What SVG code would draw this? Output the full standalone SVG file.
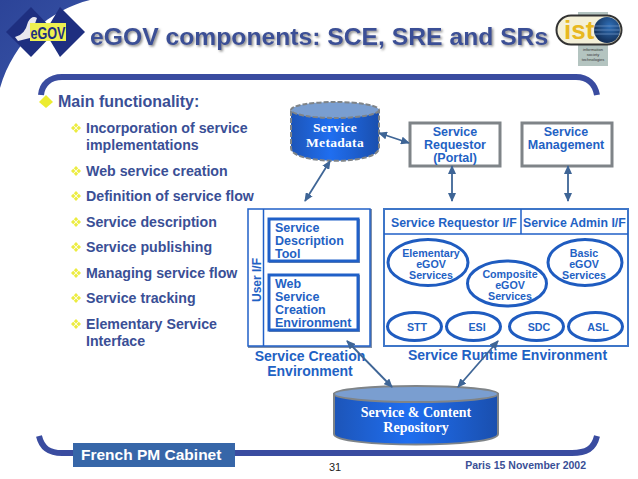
<svg xmlns="http://www.w3.org/2000/svg" xmlns:xlink="http://www.w3.org/1999/xlink" width="638" height="479" viewBox="0 0 638 479">
<defs>
<linearGradient id="cyl" x1="0" y1="0" x2="1" y2="0"><stop offset="0" stop-color="#1d55b8"/><stop offset="0.45" stop-color="#1f6ef0"/><stop offset="1" stop-color="#1a4fae"/></linearGradient>
<linearGradient id="corner" x1="0" y1="0" x2="1" y2="1"><stop offset="0" stop-color="#2c4498"/><stop offset="1" stop-color="#3a55a8"/></linearGradient>
<radialGradient id="globe" cx="0.6" cy="0.35" r="0.8"><stop offset="0" stop-color="#2f6fb8"/><stop offset="1" stop-color="#0c1f40"/></radialGradient>
<marker id="ah" markerWidth="9" markerHeight="8" refX="8" refY="4" orient="auto-start-reverse" markerUnits="userSpaceOnUse"><path d="M0 0L9 4L0 8Z" fill="#3e6596"/></marker>
<filter id="shadow" x="-5%" y="-20%" width="110%" height="140%"><feDropShadow dx="1.500" dy="1.500" stdDeviation="0.800" flood-color="#8a8a8a"/></filter>
<path id="sb" d="M0 -5L2.200 -2.800L0 -0.600L-2.200 -2.800ZM0 5L2.200 2.800L0 0.600L-2.200 2.800ZM-5 0L-2.800 -2.200L-0.600 0L-2.800 2.200ZM5 0L2.800 -2.200L0.600 0L2.800 2.200Z" fill="#ecec40"/>
</defs>
<style>
text{font-family:"Liberation Sans",Arial,sans-serif}
.bl{font-weight:700;font-size:14.200px;fill:#3a4f96}
.blue{font-weight:700;font-size:12.500px;fill:#1f62c4}
.sm{font-weight:700;font-size:12.500px;fill:#1f62c4;text-anchor:middle}
.xs{font-weight:700;font-size:10.700px;fill:#1f62c4;text-anchor:middle}
.lbl{font-weight:700;font-size:14px;fill:#1f62c4;text-anchor:middle}
.ser{font-family:"Liberation Serif",serif;font-weight:700;fill:#fff;text-anchor:middle;font-size:14px}
.box{fill:#fff;stroke:#2060c8;stroke-width:3}
.bs{fill:none;stroke:#7f8fa8;stroke-width:2}
.ell{fill:#fff;stroke:#1f5cc0;stroke-width:3}
.cn{fill:none;stroke:#3e6596;stroke-width:1.800;marker-start:url(#ah);marker-end:url(#ah)}
.grey{fill:#fff;stroke:#7f8488;stroke-width:3}
</style>
<rect width="638" height="479" fill="#fff"/>
<g id="decor">
<path d="M0 0H90C50 10 14 40 0 88Z" fill="url(#corner)"/>
<path d="M41 95C42 84 50 77 62 77H576C588 77 595 84 597 95" fill="none" stroke="#3a4ca0" stroke-width="6"/>
<path d="M39 436C42 449 50 453 62 453H572C586 453 594 449 597 436" fill="none" stroke="#3a4ca0" stroke-width="6"/>
</g>
<g id="logo-egov">
<path d="M31 7L55 32L31 57L6 32Z" fill="#1e2f80"/>
<path d="M60 7L85 32L60 57L45 32Z" fill="#1e2f80"/>
<path d="M15 37Q25 35 28 22Q32 15 37 18L30 38L18 41Z" fill="#e8e8ee"/>
<rect x="30" y="23" width="36" height="18" fill="#eef050"/>
<text x="48" y="39" text-anchor="middle" style="font-size:17px;font-weight:700;fill:#1e2f80" textLength="35" lengthAdjust="spacingAndGlyphs">eGOV</text>
</g>
<text x="90" y="45" filter="url(#shadow)" style="font-size:24.700px;font-weight:700;fill:#3a4f96">eGOV components: SCE, SRE and SRs</text>
<g id="logo-ist">
<rect x="578" y="12" width="30" height="54" fill="#b4c4c0"/>
<rect x="556.500" y="15.500" width="65" height="29" rx="14.500" fill="#f4f0d8" stroke="#333" stroke-width="2"/>
<circle cx="607" cy="30" r="13" fill="url(#globe)"/>
<path d="M594.500 26H619M594 30H620M594.500 34H619" stroke="#6a90c0" stroke-width="0.800"/>
<text x="564" y="39" style="font-size:26px;font-weight:700;fill:#e8b820">ist</text>
<text x="593" y="51" text-anchor="middle" style="font-size:4px;fill:#333">information</text>
<text x="593" y="56" text-anchor="middle" style="font-size:4px;fill:#333">society</text>
<text x="593" y="61" text-anchor="middle" style="font-size:4px;fill:#333">technologies</text>
</g>
<g id="bullets">
<path fill="#ecec30" d="M46 95L53 102L46 108L39 102Z"/>
<text x="58" y="107" class="bl" style="font-size:16px">Main functionality:</text>
<use xlink:href="#sb" href="#sb" x="76" y="128"/><text x="86" y="133" class="bl">Incorporation of service</text><text x="86" y="150" class="bl">implementations</text>
<use xlink:href="#sb" href="#sb" x="76" y="171"/><text x="86" y="176" class="bl">Web service creation</text>
<use xlink:href="#sb" href="#sb" x="76" y="196"/><text x="86" y="201" class="bl">Definition of service flow</text>
<use xlink:href="#sb" href="#sb" x="76" y="222"/><text x="86" y="227" class="bl">Service description</text>
<use xlink:href="#sb" href="#sb" x="76" y="247"/><text x="86" y="252" class="bl">Service publishing</text>
<use xlink:href="#sb" href="#sb" x="76" y="273"/><text x="86" y="278" class="bl">Managing service flow</text>
<use xlink:href="#sb" href="#sb" x="76" y="298"/><text x="86" y="303" class="bl">Service tracking</text>
<use xlink:href="#sb" href="#sb" x="76" y="324"/><text x="86" y="329" class="bl">Elementary Service</text><text x="86" y="346" class="bl">Interface</text>
</g>
<g id="service-metadata">
<path d="M291 111V148C291 165 379 165 379 148V111Z" fill="url(#cyl)" stroke="#7f8488" stroke-width="2" stroke-dasharray="5 2"/>
<ellipse cx="335" cy="110" rx="44" ry="8" fill="#7a9ed0" stroke="#7f8488" stroke-width="2" stroke-dasharray="5 2"/>
<text class="ser" x="335" y="132" style="font-size:13.500px;letter-spacing:0.300px">Service</text><text class="ser" x="335" y="147" style="font-size:13.500px;letter-spacing:0.300px">Metadata</text>
</g>
<g id="service-requestor-portal">
<rect class="grey" x="410" y="123" width="90" height="43"/>
<text class="sm" x="455" y="136">Service</text><text class="sm" x="455" y="149">Requestor</text><text class="sm" x="455" y="162">(Portal)</text>
</g>
<g id="service-management">
<rect class="grey" x="522" y="123" width="90" height="43"/>
<text class="sm" x="566" y="136">Service</text><text class="sm" x="566" y="149">Management</text>
</g>
<g id="sce">
<rect x="249" y="210" width="122" height="137" class="bs"/>
<rect x="248" y="209" width="122" height="137" fill="#fff" stroke="#2060c8" stroke-width="1.500"/>
<path d="M263.500 209V346" stroke="#2060c8" stroke-width="1.500"/>
<text transform="translate(261 302) rotate(-90)" style="font-size:12px;font-weight:700;fill:#1f62c4">User I/F</text>
<rect class="bs" x="270" y="220" width="89" height="42"/>
<rect class="box" x="269" y="219" width="89" height="42"/>
<text class="blue" x="275" y="232">Service</text><text class="blue" x="275" y="245">Description</text><text class="blue" x="275" y="258">Tool</text>
<rect class="bs" x="270" y="276" width="89" height="55"/>
<rect class="box" x="269" y="275" width="89" height="55"/>
<text class="blue" x="275" y="288">Web</text><text class="blue" x="275" y="301">Service</text><text class="blue" x="275" y="314">Creation</text><text class="blue" x="275" y="327">Environment</text>
<text class="lbl" x="310" y="361">Service Creation</text>
<text class="lbl" x="310" y="376">Environment</text>
</g>
<g id="sre">
<rect x="384" y="209" width="244" height="137" fill="#fff" stroke="#3e76c8" stroke-width="2"/>
<path d="M384 234H628M521 209V234" stroke="#2060c8" stroke-width="1.500" fill="none"/>
<text class="blue" x="391" y="227" style="font-size:12.300px">Service Requestor I/F</text><text class="blue" x="523" y="227" style="font-size:12.300px">Service Admin I/F</text>
<g id="elementary"><ellipse class="ell" cx="428" cy="262.500" rx="40" ry="23"/><text class="xs" x="431" y="257">Elementary</text><text class="xs" x="431" y="268">eGOV</text><text class="xs" x="431" y="279">Services</text></g>
<g id="composite"><ellipse class="ell" cx="507" cy="283.500" rx="39.500" ry="22.500"/><text class="xs" x="510" y="278">Composite</text><text class="xs" x="510" y="289">eGOV</text><text class="xs" x="510" y="300">Services</text></g>
<g id="basic"><ellipse class="ell" cx="585" cy="262.500" rx="37" ry="23"/><text class="xs" x="584" y="257">Basic</text><text class="xs" x="584" y="268">eGOV</text><text class="xs" x="584" y="279">Services</text></g>
<g id="stt"><ellipse class="ell" cx="414.500" cy="326.500" rx="27" ry="14"/><text class="xs" x="417" y="331">STT</text></g>
<g id="esi"><ellipse class="ell" cx="473.500" cy="326.500" rx="27" ry="14"/><text class="xs" x="477" y="331">ESI</text></g>
<g id="sdc"><ellipse class="ell" cx="536.500" cy="326.500" rx="27" ry="14"/><text class="xs" x="539" y="331">SDC</text></g>
<g id="asl"><ellipse class="ell" cx="595.500" cy="326.500" rx="27" ry="14"/><text class="xs" x="598" y="331">ASL</text></g>
<text class="lbl" x="507.500" y="360">Service Runtime Environment</text>
</g>
<g id="repository">
<path d="M334 394V434C334 448 498 448 498 434V394Z" fill="url(#cyl)" stroke="#7f8488" stroke-width="2"/>
<ellipse cx="416" cy="394" rx="82" ry="8" fill="#7a9ed0" stroke="#7f8488" stroke-width="2"/>
<text class="ser" x="416" y="417">Service &amp; Content</text><text class="ser" x="416" y="432">Repository</text>
</g>
<g id="cabinet">
<rect x="73" y="443" width="162" height="24" fill="#3766a8"/>
<text x="81" y="460" style="font-size:15.500px;font-weight:700;fill:#fff">French PM Cabinet</text>
</g>
<text x="329" y="471" style="font-size:11px;fill:#222">31</text>
<text x="586" y="469" text-anchor="end" style="font-size:10.500px;font-weight:700;fill:#3a4f96">Paris 15 November 2002</text>
<g id="connectors">
<path class="cn" d="M330 161L305 201"/>
<path class="cn" d="M379 133L409 143"/>
<path class="cn" d="M452 166V201"/>
<path class="cn" d="M568 166V201"/>
<path class="cn" d="M347 341L392 387"/>
<path class="cn" d="M498 341L458 387"/>
</g>
</svg>
